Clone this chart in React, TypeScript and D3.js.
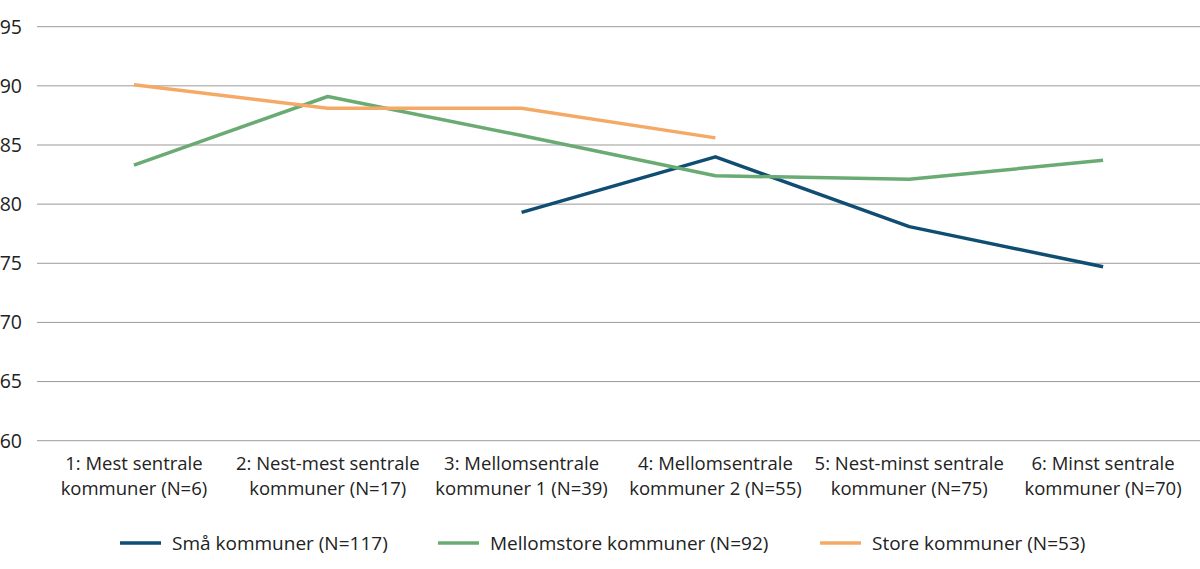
import React, { useEffect, useRef } from "react";
import * as d3 from "d3";

const categories = [
  ["1: Mest sentrale", "kommuner (N=6)"],
  ["2: Nest-mest sentrale", "kommuner (N=17)"],
  ["3: Mellomsentrale", "kommuner 1 (N=39)"],
  ["4: Mellomsentrale", "kommuner 2 (N=55)"],
  ["5: Nest-minst sentrale", "kommuner (N=75)"],
  ["6: Minst sentrale", "kommuner (N=70)"],
];

const smaa: (number | null)[] = [null, null, 79.3, 84.0, 78.1, 74.7];
const mellomstore: (number | null)[] = [83.3, 89.1, 85.8, 82.4, 82.1, 83.7];
const store: (number | null)[] = [90.1, 88.1, 88.1, 85.6, null, null];

const yTicks = [60, 65, 70, 75, 80, 85, 90, 95];

const series = [
  { name: "Små kommuner (N=117)", values: smaa, color: "#0f4d72" },
  { name: "Mellomstore kommuner (N=92)", values: mellomstore, color: "#6aab74" },
  { name: "Store kommuner (N=53)", values: store, color: "#f4aa66" },
];

const App = () => {
  const ref = useRef<SVGSVGElement>(null);

  useEffect(() => {
    const svg = d3.select(ref.current);
    svg.selectAll("*").remove();
    const font = "'Open Sans', sans-serif";

    const left = 37;
    const right = 1200;
    const top = 26.7;
    const bottom = 440.7;

    const x = d3
      .scaleBand<number>()
      .domain(d3.range(categories.length))
      .range([left, right]);
    const y = d3.scaleLinear().domain([60, 95]).range([bottom, top]);

    // gridlines
    svg
      .append("g")
      .selectAll("line")
      .data(yTicks)
      .join("line")
      .attr("x1", left)
      .attr("x2", right)
      .attr("y1", (d) => y(d))
      .attr("y2", (d) => y(d))
      .attr("stroke", "#9a9a9a")
      .attr("stroke-width", 1);

    // y labels
    svg
      .append("g")
      .selectAll("text")
      .data(yTicks)
      .join("text")
      .attr("x", 22)
      .attr("y", (d) => y(d))
      .attr("dy", "0.35em")
      .attr("text-anchor", "end")
      .attr("font-family", font)
      .attr("font-size", 19.5)
      .attr("fill", "#222")
      .text((d) => d);

    // x labels
    const xl = svg
      .append("g")
      .selectAll("text")
      .data(categories)
      .join("text")
      .attr("text-anchor", "middle")
      .attr("font-family", font)
      .attr("font-size", 18.5)
      .attr("fill", "#222");
    xl.each(function (d, i) {
      const t = d3.select(this);
      const cx = x(i)! + x.bandwidth() / 2;
      d.forEach((line, j) => {
        t.append("tspan")
          .attr("x", cx)
          .attr("y", 470 + j * 25)
          .text(line);
      });
    });

    // lines
    series.forEach((s) => {
      const line = d3
        .line<number | null>()
        .defined((d) => d !== null)
        .x((_, i) => x(i)! + x.bandwidth() / 2)
        .y((d) => y(d as number));
      svg
        .append("path")
        .datum(s.values)
        .attr("fill", "none")
        .attr("stroke", s.color)
        .attr("stroke-width", 3.5)
        .attr("stroke-linejoin", "round")
        .attr("d", line);
    });

    // legend
    const legendX = [120, 438, 820];
    series.forEach((s, i) => {
      const g = svg.append("g").attr("transform", `translate(${legendX[i]}, 543)`);
      g.append("line")
        .attr("x1", 0)
        .attr("x2", 41)
        .attr("stroke", s.color)
        .attr("stroke-width", 3.5);
      g.append("text")
        .attr("x", 52)
        .attr("dy", "0.35em")
        .attr("font-family", font)
        .attr("font-size", 19)
        .attr("fill", "#222")
        .text(s.name);
    });
  });

  return (
    <svg
      ref={ref}
      width={1200}
      height={569}
      style={{ position: "absolute", left: 0, top: 0, background: "#fff" }}
    />
  );
};

export default App;
